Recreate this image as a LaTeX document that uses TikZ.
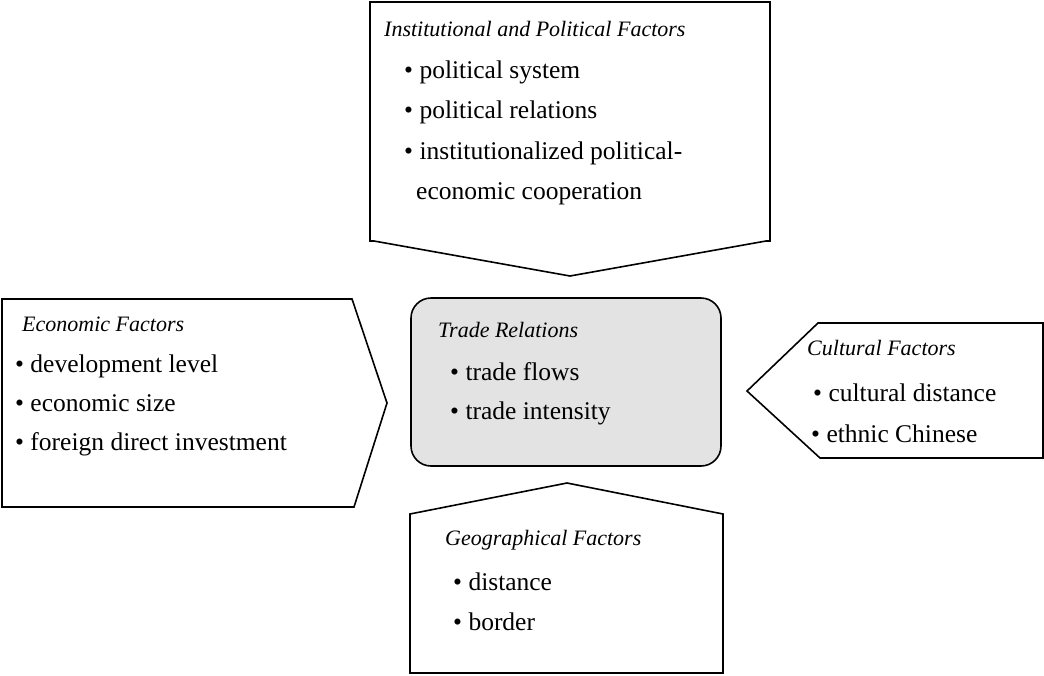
\documentclass[tikz,border=0pt]{standalone}
\usepackage{fontspec}
\setmainfont{Liberation Serif}
\tikzset{
  box/.style={draw, line width=1.6pt, line join=miter},
  head/.style={anchor=base west, inner sep=0pt, font=\fontsize{22}{26}\selectfont\itshape},
  item/.style={anchor=base west, inner sep=0pt, font=\fontsize{25.5}{30}\selectfont},
}
\begin{document}
\begin{tikzpicture}[x=1pt,y=-1pt]
\useasboundingbox (0,0) rectangle (1044,675);
% institutional and political factors
\draw[box] (370,241) -- (370,2) -- (770,2) -- (770,241) -- (766,241) -- (570,276) -- (374,241) -- cycle;
\node[head] (inst) at (384,36) {Institutional and Political Factors};
\node[item] (inst1) at (404,78) {• political system};
\node[item] (inst2) at (404,118) {• political relations};
\node[item] (inst3) at (404,159) {• institutionalized political-};
\node[item] (inst4) at (416,199) {economic cooperation};
% economic factors
\draw[box] (2,299) -- (352,299) -- (387,403) -- (354,507) -- (2,507) -- cycle;
\node[head] (econ) at (22,331) {Economic Factors};
\node[item] (econ1) at (15,372) {• development level};
\node[item] (econ2) at (15,411) {• economic size};
\node[item] (econ3) at (15,450) {• foreign direct investment};
% trade relations
\draw[box, fill=black!11, rounded corners=20pt] (411,298) rectangle (721,466);
\node[head] (trade) at (438,337) {Trade Relations};
\node[item] (trade1) at (450,380) {• trade flows};
\node[item] (trade2) at (450,419) {• trade intensity};
% cultural factors
\draw[box] (818,323) -- (1043,323) -- (1043,458) -- (820,458) -- (747,391) -- cycle;
\node[head] (cult) at (807,355) {Cultural Factors};
\node[item] (cult1) at (813,401) {• cultural distance};
\node[item] (cult2) at (811,442) {• ethnic Chinese};
% geographical factors
\draw[box] (410,673) -- (410,514) -- (567,483) -- (723,514) -- (723,673) -- cycle;
\node[head] (geo) at (445,545) {Geographical Factors};
\node[item] (geo1) at (453,590) {• distance};
\node[item] (geo2) at (453,630) {• border};
\end{tikzpicture}
\end{document}
